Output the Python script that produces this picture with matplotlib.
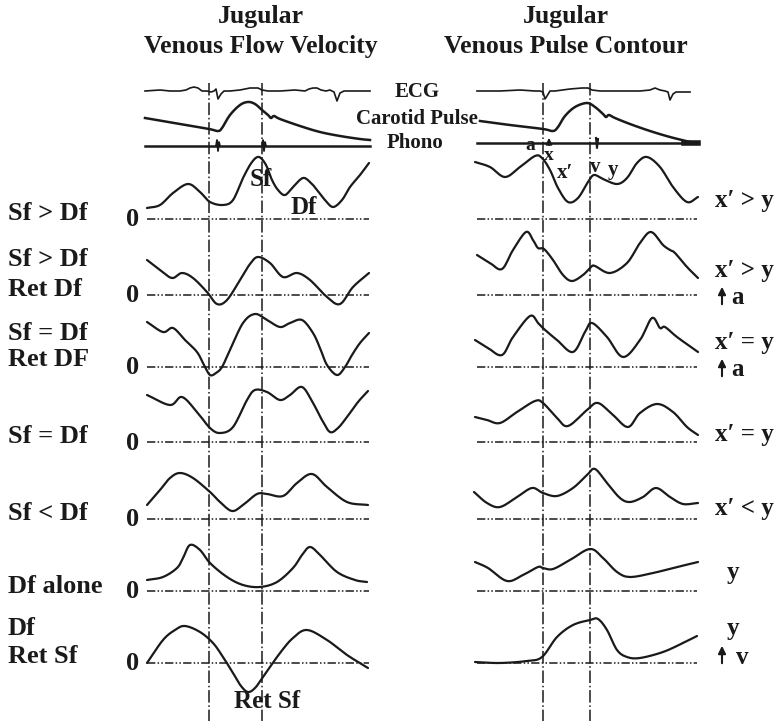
import numpy as np
import matplotlib
matplotlib.use("Agg")
import matplotlib.pyplot as plt

plt.rcParams["lines.scale_dashes"] = False
FONT = ["Liberation Serif", "DejaVu Serif"]

# ---------------- data ----------------
titles = ["Jugular", "Venous Flow Velocity", "Jugular", "Venous Pulse Contour"]
left_labels = [["Sf > Df"], ["Sf > Df", "Ret Df"], ["Sf = Df", "Ret DF"], ["Sf = Df"],
               ["Sf < Df"], ["Df alone"], ["Df", "Ret Sf"]]
right_labels = ["x\u2032 > y", "x\u2032 > y", "x\u2032 = y", "x\u2032 = y", "x\u2032 < y", "y", "y"]
right_arrows = [None, "a", "a", None, None, None, "v"]
zero_label = "0"

# flow velocity curves (time, amplitude above zero line)
flow_t = [
    [147,160,173,188,200,210,223,233,243,252,259,266,272,278,285,293,303,311,317,325,333,342,350,360,369],
    [147,160,172,182,193,207,217,227,240,250,258,270,283,297,310,327,340,353,369],
    [147,163,173,185,197,204,210,216,222,230,243,255,267,280,290,302,313,320,327,337,345,352,360,369],
    [147,170,182,197,210,220,233,247,255,267,280,290,302,313,322,330,338,347,358,368],
    [147,160,170,180,193,210,220,232,243,257,267,283,297,312,327,347,368],
    [147,163,177,183,190,200,210,227,243,260,277,293,302,310,320,337,355,367],
    [147,163,175,185,200,213,223,233,241,248,255,263,280,293,307,327,347,368],
]
flow_v = [
    [11,14,26,35,27,17,14,19,41,57,62,54,39,29,24,32,41,36,29,19,12,19,32,44,56],
    [35,25,17,22,17,3,-9,-5,15,31,38,32,18,22,15,-2,-9,8,22],
    [45,35,39,27,15,2,-8,-6,0,17,44,53,47,40,44,47,34,19,2,-8,0,12,24,34],
    [47,37,45,30,14,9,15,42,52,50,42,47,55,39,22,10,14,25,40,51],
    [14,29,41,46,41,27,17,8,14,25,25,23,36,45,32,17,14],
    [11,14,23,33,46,41,28,14,6,4,9,23,36,44,36,19,11,9],
    [0,23,33,37,31,20,6,-10,-23,-29,-25,-14,10,25,33,23,8,-5],
]
# pulse contour curves
pulse_t = [
    [475,490,505,520,535,542,550,558,568,578,588,594,603,617,627,637,647,660,673,687,698],
    [477,490,502,513,526,533,538,544,553,563,572,583,591,595,610,627,640,651,663,670,675,687,698],
    [475,488,502,513,530,538,544,557,573,585,592,607,623,640,652,660,665,677,698],
    [475,487,500,517,535,543,557,568,587,598,613,628,640,657,673,687,698],
    [474,487,500,517,532,543,557,573,587,595,607,620,630,643,656,670,683,698],
    [475,488,507,523,538,543,553,570,590,603,617,630,653,673,698],
    [475,500,527,542,557,573,590,598,607,617,627,640,663,683,697],
]
pulse_v = [
    [57,52,42,52,63,61,49,31,17,21,37,44,40,35,41,56,62,52,32,17,22],
    [40,32,26,45,63,55,47,46,35,20,14,20,28,29,22,32,52,63,50,45,42,28,17],
    [27,19,12,30,51,44,38,27,15,35,44,30,10,27,49,39,40,30,15],
    [25,22,19,30,41,39,24,16,32,39,27,15,29,38,30,15,7],
    [27,16,12,22,31,26,23,31,44,50,36,21,17,22,31,22,15,16],
    [29,23,10,16,24,23,22,31,42,33,19,14,18,23,29],
    [1,0,2,6,26,38,43,44,33,13,6,5,11,20,27],
]

# top reference traces
ecg_l_t = [145,160,170,180,186,190,194,198,202,207,211,214,216,218,221,224,230,240,250,258,262,268,280,295,305,309,313,317,321,326,330,334,337,340,344,355,370]
ecg_l_v = [0,1,0,0,1,3,4,3,0,0,-1,0,2,-8,-3,0,0,1,3,3,1,0,0,1,0,2,3,3,1,0,1,-1,-10,-2,0,0,0]
ecg_r_t = [477,500,520,535,540,543,545,547,550,555,570,582,588,592,600,620,640,650,655,660,665,668,670,673,676,690]
ecg_r_v = [0,0,1,0,0,-1,-8,-5,0,0,2,3,3,1,0,0,0,1,3,1,0,-1,-9,-3,-1,-1]
car_l_t = [145,180,209,218,222,230,240,248,255,262,268,271,274,280,300,320,340,360,370]
car_l_v = [13,7,2,0,3,16,26,29,27,21,16,13,15,12,5,-1,-5,-8,-9]
car_r_t = [480,510,543,553,558,565,575,587,595,603,606,609,615,630,650,670,690]
car_r_v = [10,6,2,0,4,15,24,28,24,17,14,16,13,7,0,-6,-11]
phono_l_bursts = [218, 264]
phono_r_bursts = [597]

# ---------------- layout ----------------
ROW_Y = [219, 295, 367, 442, 519, 591, 663]
L_X = (147, 369)
R_X = (477, 697)
VLINES = [209, 262, 543, 590]
ECG_Y, CAR_Y, PH_L_Y, PH_R_Y = 91, 131, 146, 143


def smooth(xs, ys, n=10):
    P = np.column_stack([xs, ys]).astype(float)
    P = np.vstack([2 * P[0] - P[1], P, 2 * P[-1] - P[-2]])
    out = []
    t = np.linspace(0, 1, n, endpoint=False)[:, None]
    for i in range(1, len(P) - 2):
        p0, p1, p2, p3 = P[i - 1], P[i], P[i + 1], P[i + 2]
        seg = 0.5 * ((2 * p1) + (-p0 + p2) * t + (2 * p0 - 5 * p1 + 4 * p2 - p3) * t ** 2
                     + (-p0 + 3 * p1 - 3 * p2 + p3) * t ** 3)
        out.append(seg)
    out.append(P[-2][None, :])
    return np.vstack(out)


W, H = 775, 721
fig = plt.figure(figsize=(7.75, 7.21), dpi=100)
ax = fig.add_axes([0, 0, 1, 1])
ax.set_xlim(0, W)
ax.set_ylim(H, 0)
ax.axis("off")

K = "#1a1a1a"
H_DASH = (0, (6, 1.6, 1.1, 1.6, 1.1, 1.6))
V_DASH = (0, (9, 2, 1.1, 2))

# vertical reference lines
for x in VLINES:
    ax.plot([x, x], [83, H], color=K, lw=1.1, linestyle=V_DASH)

# zero lines and curves
for i, y0 in enumerate(ROW_Y):
    ax.plot(L_X, [y0, y0], color=K, lw=1.1, linestyle=H_DASH)
    ax.plot(R_X, [y0, y0], color=K, lw=1.1, linestyle=H_DASH)
    c = smooth(flow_t[i], y0 - np.array(flow_v[i]))
    ax.plot(c[:, 0], c[:, 1], color=K, lw=1.6, solid_capstyle="round")
    c = smooth(pulse_t[i], y0 - np.array(pulse_v[i]))
    ax.plot(c[:, 0], c[:, 1], color=K, lw=1.6, solid_capstyle="round")
    ax.text(133, y0 + 1, zero_label, ha="center", va="center", fontsize=19,
            fontweight="bold", family=FONT, color=K)

# top traces
ax.plot(ecg_l_t, ECG_Y - np.array(ecg_l_v), color=K, lw=1.2)
ax.plot(ecg_r_t, ECG_Y - np.array(ecg_r_v), color=K, lw=1.2)
c = smooth(car_l_t, CAR_Y - np.array(car_l_v), n=6)
ax.plot(c[:, 0], c[:, 1], color=K, lw=1.8)
c = smooth(car_r_t, CAR_Y - np.array(car_r_v), n=6)
ax.plot(c[:, 0], c[:, 1], color=K, lw=1.8)
ax.plot([145, 370], [PH_L_Y, PH_L_Y], color=K, lw=1.8)
ax.plot([477, 690], [PH_R_Y, PH_R_Y], color=K, lw=1.8)
ax.plot([684, 698], [PH_R_Y, PH_R_Y], color=K, lw=4)
for bx in phono_l_bursts:
    ax.plot([bx - 2, bx - 1, bx, bx + 1, bx + 2], [PH_L_Y, PH_L_Y - 6, PH_L_Y + 5, PH_L_Y - 4, PH_L_Y],
            color=K, lw=1.3)
for bx in phono_r_bursts:
    ax.plot([bx - 1, bx, bx + 1], [PH_R_Y - 5, PH_R_Y + 5, PH_R_Y - 4], color=K, lw=1.5)
ax.annotate("", xy=(549, 135), xytext=(549, 148),
            arrowprops=dict(arrowstyle="-|>", color=K, lw=1.3, mutation_scale=9))

# titles
tkw = dict(ha="center", va="baseline", fontsize=18.5, fontweight="bold", family=FONT, color=K)
ax.text(261, 23, titles[0], **tkw)
ax.text(261, 53, titles[1], **tkw)
ax.text(566, 23, titles[2], **tkw)
ax.text(566, 53, titles[3], **tkw)

skw = dict(va="center", fontweight="bold", family=FONT, color=K)
ax.text(417, 92, "ECG", ha="center", fontsize=15, **skw)
ax.text(478, 119, "Carotid Pulse", ha="right", fontsize=15, **skw)
ax.text(415, 143, "Phono", ha="center", fontsize=15, **skw)
ax.text(530, 146, "a", ha="center", fontsize=14, **skw)
ax.text(549, 156, "x", ha="center", fontsize=14, **skw)
ax.text(565, 173, "x\u2032", ha="center", fontsize=15, **skw)
ax.text(595, 167, "v", ha="center", fontsize=15, **skw)
ax.text(613, 170, "y", ha="center", fontsize=15, **skw)
ax.text(261, 180, "Sf", ha="center", fontsize=18, **skw)
ax.text(304, 207, "Df", ha="center", fontsize=18, **skw)
ax.text(267, 702, "Ret Sf", ha="center", fontsize=18, **skw)

# left row labels
lab_kw = dict(ha="left", va="baseline", fontsize=19, fontweight="bold", family=FONT, color=K)
left_baselines = [[220], [266, 296], [340, 366], [443], [520], [593], [635, 663]]
for labs, bls in zip(left_labels, left_baselines):
    for s, b in zip(labs, bls):
        ax.text(8, b, s, **lab_kw)

# right row labels
right_centers = [201, 270, 342, 434, 508, 573, 628]
for i, (s, yc) in enumerate(zip(right_labels, right_centers)):
    x0 = 715 if len(s) > 1 else 727
    ax.text(x0, yc, s, ha="left", va="center", fontsize=18, fontweight="bold", family=FONT, color=K)
    if right_arrows[i]:
        ya = yc + 27 if right_arrows[i] == "a" else yc + 28
        ax.annotate("", xy=(722, ya - 13), xytext=(722, ya + 10),
                    arrowprops=dict(arrowstyle="-|>", color=K, lw=1.5, mutation_scale=11))
        ax.text(737 if right_arrows[i] == "a" else 742, ya + 1, right_arrows[i],
                ha="center", va="center", fontsize=18, fontweight="bold", family=FONT, color=K)

fig.savefig("out.png", dpi=100)
